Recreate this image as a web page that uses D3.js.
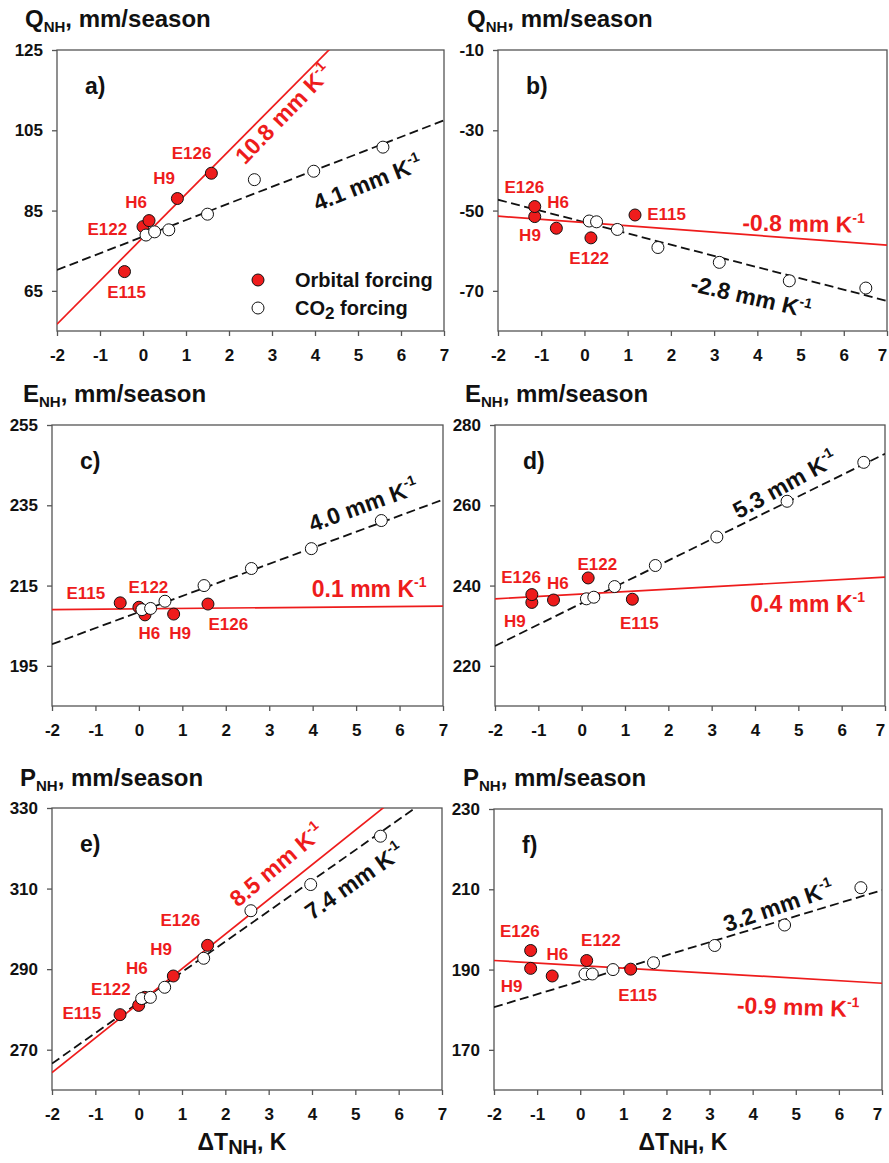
<!DOCTYPE html>
<html>
<head>
<meta charset="utf-8">
<script src="https://cdn.jsdelivr.net/npm/d3@7"></script>
<style>
body { margin: 0; background: #fff; }
svg { display: block; }
text { font-family: "Liberation Sans", Arial, sans-serif; font-weight: bold; }
</style>
</head>
<body>
<div id="container"></div>
<script>
const width = 889;
const height = 1163;
const RED = '#ee1c1c';

// ---- data ----
const xTicks = [-2, -1, 0, 1, 2, 3, 4, 5, 6, 7];
const panelLetters = ['a', 'b', 'c', 'd', 'e', 'f'];
const quantity = ['Q', 'Q', 'E', 'E', 'P', 'P'];
const yDomains = [[55, 125], [-80, -10], [185, 255], [210, 280], [260, 330], [160, 230]];
const yTicks = [
    [65, 85, 105, 125],
    [-70, -50, -30, -10],
    [195, 215, 235, 255],
    [220, 240, 260, 280],
    [270, 290, 310, 330],
    [170, 190, 210, 230]
];

// orbital runs, order: E115, E122, H6, H9, E126
const orbitalNames = ['E115', 'E122', 'H6', 'H9', 'E126'];
const orbitalDT_left = [-0.43, 0.0, 0.14, 0.8, 1.59];   // panels a, c, e
const orbitalDT_right = [1.17, 0.15, -0.65, -1.15, -1.15]; // panels b, d, f
const orbitalValues = [
    [69.8, 81.0, 82.5, 88.0, 94.3],
    [-51.1, -56.8, -54.4, -51.5, -49.0],
    [210.7, 209.6, 207.7, 207.9, 210.4],
    [236.6, 241.9, 236.4, 235.8, 237.75],
    [278.7, 281.0, 283.0, 288.3, 295.9],
    [190.1, 192.25, 188.4, 190.3, 194.75]
];

// CO2 runs
const co2DT_left = [0.07, 0.27, 0.6, 1.5, 2.59, 3.97, 5.58];
const co2DT_right = [0.11, 0.28, 0.76, 1.7, 3.12, 4.74, 6.51];
const co2Values = [
    [78.9, 79.7, 80.2, 84.1, 92.7, 94.8, 100.8],
    [-52.6, -52.8, -54.7, -59.2, -62.9, -67.5, -69.3],
    [209.0, 209.3, 211.1, 215.0, 219.25, 224.2, 231.2],
    [236.7, 237.1, 239.75, 245.0, 252.1, 261.0, 270.7],
    [282.7, 283.0, 285.5, 292.7, 304.5, 311.0, 323.0],
    [188.9, 188.9, 190.0, 191.7, 196.0, 201.1, 210.4]
];

// regression lines: slope and value at dT = 0
const orbitalSlope = [10.8, -0.8, 0.1, 0.6, 8.6, -0.63];
const orbitalAt0 = [78.3, -53.0, 209.2, 237.9, 281.5, 191.0];
const co2Slope = [4.14, -2.8, 4.0, 5.32, 7.57, 3.24];
const co2At0 = [78.5, -52.9, 208.4, 235.6, 281.7, 187.1];
const orbitalSlopeText = ['10.8', '-0.8', '0.1', '0.4', '8.5', '-0.9'];
const co2SlopeText = ['4.1', '-2.8', '4.0', '5.3', '7.4', '3.2'];

// ---- layout ----
const boxes = [
    { l: 57, r: 444, t: 50, b: 331 },
    { l: 498, r: 887, t: 50, b: 331 },
    { l: 52, r: 443, t: 425, b: 706 },
    { l: 495, r: 885, t: 425, b: 706 },
    { l: 52, r: 442, t: 808, b: 1090 },
    { l: 494, r: 882, t: 809, b: 1090 }
];
const titlePos = [[25, 27], [467, 27], [23, 402], [465, 402], [20, 786], [463, 786]];

// label anchors in data coords (E115, E122, H6, H9, E126)
const pointLabelPos = [
    [[-0.38, 63.3], [-0.83, 79], [-0.16, 85.7], [0.49, 91.5], [1.13, 97.9]],
    [[1.9, -52.25], [0.11, -63.3], [-0.61, -49.4], [-1.26, -57.5], [-1.39, -45.7]],
    [[-1.22, 211.7], [0.22, 213.1], [0.24, 201.7], [0.95, 201.7], [2.06, 203.9]],
    [[1.33, 229.2], [0.36, 244], [-0.55, 239.2], [-1.54, 229.75], [-1.4, 240.7]],
    [[-1.31, 277.7], [-0.64, 283.7], [-0.04, 288.7], [0.52, 293.5], [0.96, 300.75]],
    [[1.33, 182.25], [0.48, 195.75], [-0.53, 192.4], [-1.59, 184.3], [-1.4, 198.1]]
];
// slope labels: [dT, value, angle]
const orbitalSlopePos = [[2.37, 96.25, -46], [3.65, -55, 1], [3.98, 212.1, 0], [3.89, 233.3, 0], [2.29, 305.15, -40], [3.63, 179.2, 2]];
const co2SlopePos = [[4.05, 84.8, -21.5], [2.43, -70, 13], [3.99, 228.3, -20], [3.62, 256.5, -29], [4.0, 302, -35], [3.4, 199.3, -19]];

let svg = d3.select('#container').append('svg')
    .attr('width', width)
    .attr('height', height);

function slopeLabel(g, pos, txt, color, x, y) {
    let t = g.append('text')
        .attr('transform', `translate(${x(pos[0])},${y(pos[1])}) rotate(${pos[2]})`)
        .attr('fill', color)
        .attr('font-size', 23);
    t.append('tspan').text(txt + ' mm K');
    t.append('tspan').attr('font-size', 14).attr('dy', -10).text('-1');
}

panelLetters.forEach((letter, i) => {
    const box = boxes[i];
    const left = i % 2 == 0;
    const dtOrb = left ? orbitalDT_left : orbitalDT_right;
    const dtCo2 = left ? co2DT_left : co2DT_right;

    let x = d3.scaleLinear().domain([-2, 7]).range([box.l, box.r]);
    let y = d3.scaleLinear().domain(yDomains[i]).range([box.b, box.t]);

    let g = svg.append('g');

    g.append('clipPath').attr('id', 'clip' + i)
        .append('rect')
        .attr('x', box.l).attr('y', box.t)
        .attr('width', box.r - box.l).attr('height', box.b - box.t);

    // axes (plain hyphen minus like the original)
    let xAxis = g.append('g')
        .attr('transform', `translate(0,${box.b})`)
        .call(d3.axisBottom(x).tickValues(xTicks).tickFormat(d => String(d))
            .tickSize(5).tickSizeOuter(0).tickPadding(13));
    let yAxis = g.append('g')
        .attr('transform', `translate(${box.l},0)`)
        .call(d3.axisLeft(y).tickValues(yTicks[i]).tickFormat(d => String(d))
            .tickSize(5).tickSizeOuter(0).tickPadding(9));
    [xAxis, yAxis].forEach(a => {
        a.select('.domain').remove();
        a.selectAll('line').attr('stroke', '#555').attr('stroke-width', 1.3);
        a.selectAll('text').attr('font-size', 17).attr('fill', '#111')
            .attr('font-family', '"Liberation Sans", Arial, sans-serif');
    });
    if (!left) {
        // last label sits on the page edge
        xAxis.selectAll('.tick text').filter(d => d == 7).attr('dx', -5);
    }

    g.append('rect')
        .attr('x', box.l).attr('y', box.t)
        .attr('width', box.r - box.l).attr('height', box.b - box.t)
        .attr('fill', 'none').attr('stroke', '#555').attr('stroke-width', 1.3);

    // regression lines
    let lines = g.append('g').attr('clip-path', `url(#clip${i})`);
    lines.append('line')
        .attr('x1', x(-2)).attr('y1', y(co2At0[i] - 2 * co2Slope[i]))
        .attr('x2', x(7)).attr('y2', y(co2At0[i] + 7 * co2Slope[i]))
        .attr('stroke', '#111').attr('stroke-width', 1.8)
        .attr('stroke-dasharray', '9,4.5');
    lines.append('line')
        .attr('x1', x(-2)).attr('y1', y(orbitalAt0[i] - 2 * orbitalSlope[i]))
        .attr('x2', x(7)).attr('y2', y(orbitalAt0[i] + 7 * orbitalSlope[i]))
        .attr('stroke', RED).attr('stroke-width', 1.7);

    // points
    g.append('g').selectAll('circle')
        .data(orbitalValues[i])
        .join('circle')
        .attr('cx', (d, j) => x(dtOrb[j]))
        .attr('cy', d => y(d))
        .attr('r', 6)
        .attr('fill', RED).attr('stroke', '#111').attr('stroke-width', 1);
    g.append('g').selectAll('circle')
        .data(co2Values[i])
        .join('circle')
        .attr('cx', (d, j) => x(dtCo2[j]))
        .attr('cy', d => y(d))
        .attr('r', 6)
        .attr('fill', '#fff').attr('stroke', '#111').attr('stroke-width', 1);

    // run labels
    g.append('g').selectAll('text')
        .data(orbitalNames)
        .join('text')
        .attr('x', (d, j) => x(pointLabelPos[i][j][0]))
        .attr('y', (d, j) => y(pointLabelPos[i][j][1]))
        .attr('text-anchor', 'middle')
        .attr('font-size', 17)
        .attr('fill', RED)
        .text(d => d);

    slopeLabel(g, orbitalSlopePos[i], orbitalSlopeText[i], RED, x, y);
    slopeLabel(g, co2SlopePos[i], co2SlopeText[i], '#111', x, y);

    // panel letter
    g.append('text')
        .attr('x', box.l + 28).attr('y', box.t + 44)
        .attr('font-size', 23).attr('fill', '#111')
        .text(letter + ')');

    // y title
    let tt = g.append('text')
        .attr('x', titlePos[i][0]).attr('y', titlePos[i][1])
        .attr('fill', '#111').attr('font-size', 24);
    tt.append('tspan').text(quantity[i]);
    tt.append('tspan').attr('font-size', 15).attr('dy', 5).text('NH');
    tt.append('tspan').attr('dy', -5).text(', mm/season');

    // x title on the bottom row
    if (i >= 4) {
        let xt = g.append('text')
            .attr('x', (box.l + box.r) / 2 - 5).attr('y', 1150)
            .attr('text-anchor', 'middle')
            .attr('fill', '#111').attr('font-size', 23);
        xt.append('tspan').text('\u0394T');
        xt.append('tspan').attr('font-size', 20).attr('dy', 4).text('NH');
        xt.append('tspan').attr('dy', -4).text(', K');
    }

    // legend in panel a
    if (i == 0) {
        const legend = [
            { fill: RED, label: 'Orbital forcing', dy: 0 },
            { fill: '#fff', label: 'CO', sub: '2', rest: ' forcing', dy: 28 }
        ];
        let lg = g.append('g').selectAll('g')
            .data(legend)
            .join('g')
            .attr('transform', d => `translate(258,${280 + d.dy})`);
        lg.append('circle')
            .attr('r', 6)
            .attr('fill', d => d.fill).attr('stroke', '#111').attr('stroke-width', 1);
        let lt = lg.append('text')
            .attr('x', 37).attr('y', 7)
            .attr('font-size', 20).attr('fill', '#111');
        lt.append('tspan').text(d => d.label);
        lt.filter(d => d.sub).append('tspan').attr('font-size', 17).attr('dy', 4).text(d => d.sub);
        lt.filter(d => d.sub).append('tspan').attr('dy', -4).text(d => d.rest);
    }
});
</script>
</body>
</html>
